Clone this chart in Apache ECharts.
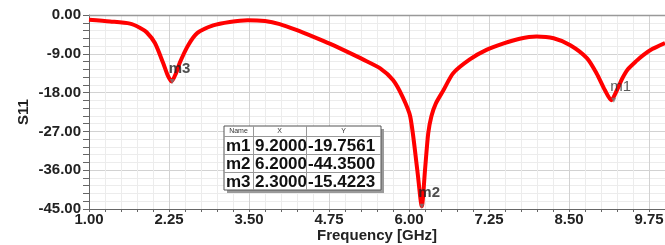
<!DOCTYPE html>
<html>
<head>
<meta charset="utf-8">
<script src="https://cdn.jsdelivr.net/npm/echarts@6/dist/echarts.min.js"></script>
<style>
  html, body { margin: 0; padding: 0; background: #fff; }
  #chart { width: 665px; height: 245px; }
</style>
</head>
<body>
<div id="chart"></div>
<script>
// S11 curve
var freq = [1.00, 1.33, 1.64, 1.80, 1.90, 2.03, 2.16, 2.23, 2.29, 2.36, 2.42, 2.55, 2.69, 2.94, 3.20, 3.48, 3.75, 3.98,
            4.25, 4.50, 4.77, 5.03, 5.28, 5.55, 5.75, 5.90, 6.02, 6.13, 6.20, 6.25, 6.30, 6.35, 6.42, 6.54, 6.69, 6.95,
            7.21, 7.48, 7.73, 7.99, 8.26, 8.52, 8.78, 8.93, 9.06, 9.16, 9.25, 9.33, 9.42, 9.55, 9.66, 9.80, 10.00];
var s11 = [-1.1, -1.5, -2.0, -3.0, -4.0, -6.5, -11.2, -14.0, -15.4, -13.5, -11.0, -7.0, -4.2, -2.4, -1.6, -1.2, -1.4, -2.1,
           -3.5, -5.0, -6.7, -8.5, -10.3, -12.4, -15.1, -19.0, -23.6, -36.0, -44.35, -36.0, -27.5, -23.5, -20.5, -17.4, -13.5, -10.3,
           -8.1, -6.6, -5.5, -5.0, -5.4, -7.0, -10.0, -13.5, -17.4, -19.76, -17.4, -14.8, -12.6, -10.7, -9.3, -7.9, -6.5];

// markers
var markerNames = ["m1", "m2", "m3"];
var markerX = [9.2, 6.2, 2.3];
var markerY = [-19.7561, -44.35, -15.4223];

// axis ticks
var xMin = 1, xMax = 10, xStep = 1.25;
var yMin = -45, yMax = 0, yStep = 9;

var chart = echarts.init(document.getElementById("chart"));

var font = "Liberation Sans, Arial, sans-serif";

// marker table drawn as graphic
var tLeft = 224, tTop = 126, colW = [29, 53, 75], headH = 10, rowH = 18;
var tW = colW[0] + colW[1] + colW[2], tH = headH + rowH * markerNames.length;
var tableEls = [];
tableEls.push({ type: "rect", shape: { x: tLeft + 3, y: tTop + 3, width: tW, height: tH }, style: { fill: "#9a9a9a" }, z: 100 });
tableEls.push({ type: "rect", shape: { x: tLeft, y: tTop, width: tW, height: tH }, style: { fill: "#fff", stroke: "#555", lineWidth: 1 }, z: 101 });
var heads = ["Name", "X", "Y"];
var cx = tLeft;
for (var c = 0; c < 3; c++) {
  tableEls.push({ type: "text", x: cx + colW[c] / 2, y: tTop + headH / 2, z: 102,
    style: { text: heads[c], font: "7px " + font, fill: "#333", align: "center", verticalAlign: "middle" } });
  if (c > 0) tableEls.push({ type: "line", shape: { x1: cx + 0.5, y1: tTop, x2: cx + 0.5, y2: tTop + tH }, style: { stroke: "#999", lineWidth: 1 }, z: 102 });
  cx += colW[c];
}
for (var r = 0; r < markerNames.length; r++) {
  var ry = tTop + headH + r * rowH;
  tableEls.push({ type: "line", shape: { x1: tLeft, y1: ry + 0.5, x2: tLeft + tW, y2: ry + 0.5 }, style: { stroke: "#999", lineWidth: 1 }, z: 102 });
  var cells = [markerNames[r], markerX[r].toFixed(4), markerY[r].toFixed(4)];
  var tx = tLeft;
  for (var c2 = 0; c2 < 3; c2++) {
    tableEls.push({ type: "text", x: tx + 2, y: ry + rowH / 2 + 1, z: 102,
      style: { text: cells[c2], font: "bold 17px " + font, fill: "#111", align: "left", verticalAlign: "middle" } });
    tx += colW[c2];
  }
}

var option = {
  animation: false,
  backgroundColor: "#fff",
  grid: { left: 89, top: 15, right: 0, bottom: 36, outerBoundsMode: "none" },
  xAxis: {
    type: "value", min: xMin, max: xMax, interval: xStep,
    name: "Frequency [GHz]", nameLocation: "middle", nameGap: 19, nameMoveOverlap: false,
    nameTextStyle: { fontFamily: font, fontWeight: "bold", fontSize: 15, color: "#222" },
    axisLine: { show: true, onZero: false, lineStyle: { color: "#666", width: 1 } },
    axisTick: { show: true, length: 3, lineStyle: { color: "#666" } },
    minorTick: { show: true, splitNumber: 5, length: 3, lineStyle: { color: "#666" } },
    axisLabel: { fontFamily: font, fontWeight: "bold", fontSize: 15, color: "#222", margin: 3, showMaxLabel: false,
      formatter: function (v) { return v.toFixed(2); } },
    splitLine: { show: true, lineStyle: { color: "#d2d2d2", width: 1 } },
    minorSplitLine: { show: true, lineStyle: { color: "#ececec", width: 1 } }
  },
  yAxis: {
    type: "value", min: yMin, max: yMax, interval: yStep,
    name: "S11", nameLocation: "middle", nameGap: 58, nameRotate: 90, nameMoveOverlap: false,
    nameTextStyle: { fontFamily: font, fontWeight: "bold", fontSize: 15, color: "#222" },
    axisLine: { show: true, lineStyle: { color: "#666", width: 1 } },
    axisTick: { show: true, length: 6, lineStyle: { color: "#666" } },
    minorTick: { show: true, splitNumber: 5, length: 6, lineStyle: { color: "#666" } },
    axisLabel: { fontFamily: font, fontWeight: "bold", fontSize: 15, color: "#222", margin: 8,
      formatter: function (v) { return v.toFixed(2); } },
    splitLine: { show: true, lineStyle: { color: "#d2d2d2", width: 1 } },
    minorSplitLine: { show: true, lineStyle: { color: "#ececec", width: 1 } }
  },
  graphic: [
    { type: "line", shape: { x1: 89, y1: 15.5, x2: 665, y2: 15.5 }, style: { stroke: "#999", lineWidth: 1.5 }, z: 50 }
  ].concat(tableEls),
  series: [
    {
      type: "line",
      data: freq.map(function (f, i) { return [f, s11[i]]; }),
      smooth: 0.25,
      showSymbol: false,
      lineStyle: { color: "#ff0000", width: 4 },
      z: 5
    },
    {
      type: "scatter",
      data: markerX.map(function (x, i) {
        var item = { value: [x, markerY[i]], name: markerNames[i] };
        if (i === 0) item.label = { fontWeight: "normal", color: "#333" };
        return item;
      }),
      symbol: "triangle", symbolSize: 5, symbolRotate: 180,
      itemStyle: { color: "#777" },
      label: {
        show: true, formatter: "{b}", position: [-1, -18], align: "left", verticalAlign: "top",
        fontFamily: font, fontWeight: "bold", fontSize: 15, color: "#222"
      },
      z: 10
    }
  ]
};
chart.setOption(option);
</script>
</body>
</html>
